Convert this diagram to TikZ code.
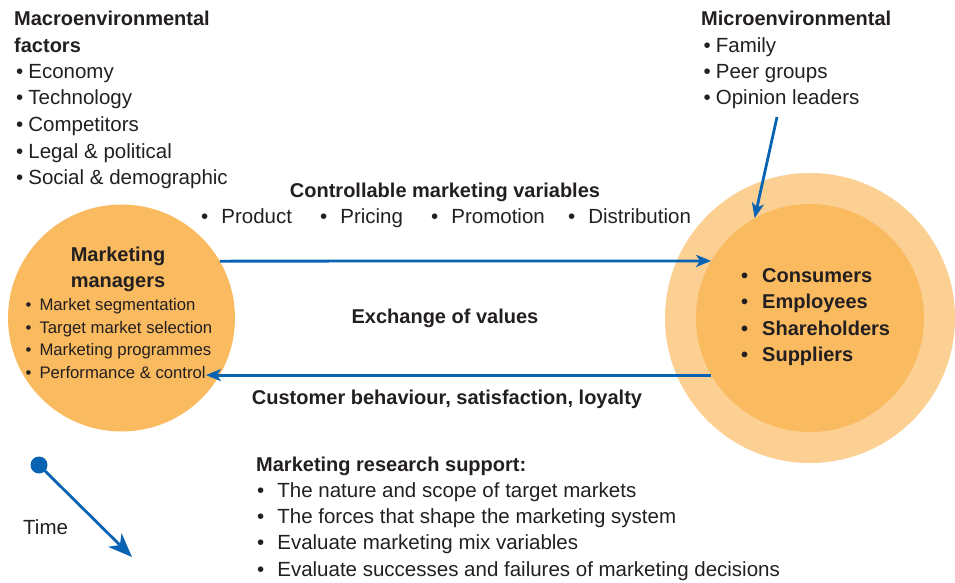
\documentclass[tikz,border=0pt]{standalone}
\usepackage{fontspec}
\setmainfont{Liberation Sans}
\usetikzlibrary{arrows.meta}
\definecolor{paleorange}{RGB}{251,208,146}
\definecolor{deeporange}{RGB}{249,186,96}
\definecolor{linkblue}{RGB}{8,99,178}
\definecolor{inkgray}{RGB}{35,31,32}

\begin{document}
\begin{tikzpicture}[x=1pt,y=-1pt,
    txt/.style={anchor=base west,inner sep=0pt,text=inkgray,font=\fontsize{20.5}{20.5}\selectfont},
    hd/.style={txt,font=\fontsize{20}{20}\selectfont\bfseries},
    sml/.style={txt,font=\fontsize{16.7}{16.7}\selectfont},
    flow/.style={draw=linkblue,line width=2.8pt,-{Stealth[length=15pt,width=12pt,inset=4pt]}}]
        \useasboundingbox (0,0) rectangle (955,583);
        % circles
        \node[circle,fill=deeporange,minimum size=227pt,inner sep=0pt] (mm) at (121.5,318) {};
        \node[circle,fill=paleorange,minimum size=290pt,inner sep=0pt] (outer) at (810,318) {};
        \node[circle,fill=deeporange,minimum size=228pt,inner sep=0pt] (cons) at (810,318) {};

        % macro factors
        \node[hd] (macro) at (14,26) {Macroenvironmental};
        \node[hd] (factors) at (14,52.5) {factors};
        \foreach \y/\t in {78.5/Economy,105/Technology,131.5/Competitors,158/Legal \& political,184.5/Social \& demographic}
          \node[txt] at (16,\y) {•\hspace{5pt}\t};

        % micro factors
        \node[hd] (micro) at (701,26) {Microenvironmental};
        \node[txt] (family) at (703.5,52.5) {•\hspace{5pt}Family};
        \node[txt] (peer) at (703.5,78.5) {•\hspace{5pt}Peer groups};
        \node[txt] (opin) at (703.5,105) {•\hspace{5pt}Opinion leaders};

        % marketing managers
        \node[hd,anchor=base] (mmtitle) at (118,261.5) {Marketing};
        \node[hd,anchor=base] (mmtitle2) at (118,287) {managers};
        \node[sml] (seg) at (25.5,310) {•\hspace{8pt}Market segmentation};
        \node[sml] (target) at (25.5,333) {•\hspace{8pt}Target market selection};
        \node[sml] (prog) at (25.5,355.5) {•\hspace{8pt}Marketing programmes};
        \node[sml] (perf) at (25.5,378) {•\hspace{8pt}Performance \& control};

        % stakeholders
        \foreach \y/\t in {282/Consumers,308.5/Employees,335/Shareholders,361.5/Suppliers}
          \node[hd] at (741,\y) {•\hspace{14pt}\t};

        % variables
        \node[hd,anchor=base] (ctrl) at (445,197) {Controllable marketing variables};
        \foreach \x/\t in {201/Product,320/Pricing,431/Promotion,568/Distribution}
          \node[txt] (var\x) at (\x,223.5) {•\hspace{13pt}\t};
        \node[hd,anchor=base] (exch) at (445,323) {Exchange of values};
        \node[hd,anchor=base] (cust) at (447,404) {Customer behaviour, satisfaction, loyalty};

        % research
        \node[hd] (research) at (256,471) {Marketing research support:};
        \foreach \y/\t in {497/The nature and scope of target markets,523/The forces that shape the marketing system,549.5/Evaluate marketing mix variables,576/Evaluate successes and failures of marketing decisions}
          \node[txt] at (257,\y) {•\hspace{13pt}\t};

        % time
        \node[txt] (time) at (23,534) {Time};
        \node[circle,fill=linkblue,minimum size=17pt,inner sep=0pt] (tdot) at (39,465) {};
        \coordinate (tend) at (132,557);
        \draw[flow,-{Stealth[length=24pt,width=19pt,inset=7pt]}] (tdot.center) -- (tend);

        % connectors
        \coordinate (opinarrow) at (777,117);
        \draw[flow] (opinarrow) -- (cons.119);
        \draw[flow] (mm.30) -- (cons.150);
        \draw[flow] (cons.210) -- (cons.210 -| perf.east);
\end{tikzpicture}
\end{document}
